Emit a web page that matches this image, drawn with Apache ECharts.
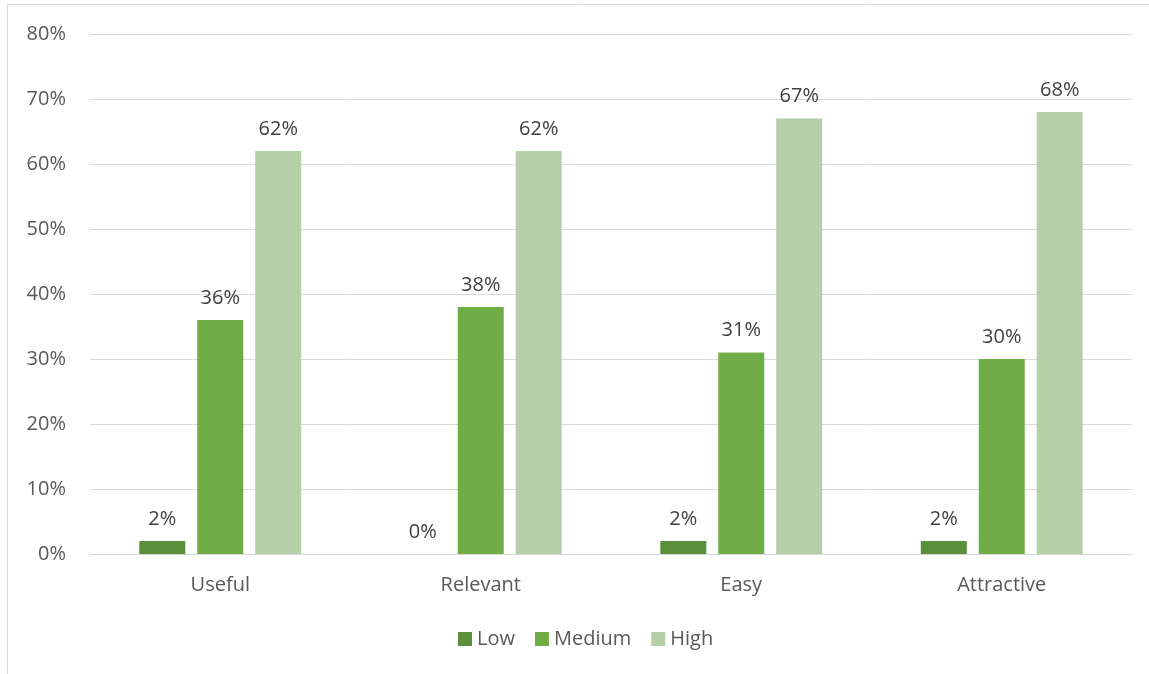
<!DOCTYPE html>
<html>
<head>
<meta charset="utf-8">
<script src="https://cdn.jsdelivr.net/npm/echarts@6/dist/echarts.min.js"></script>
<style>
  html, body { margin: 0; padding: 0; background: #fff; }
  #chart { width: 1149px; height: 674px; }
</style>
</head>
<body>
<div id="chart"></div>
<script>
// Survey ratings per attribute, in percent
const categories = ['Useful', 'Relevant', 'Easy', 'Attractive'];
const lowValues = [2, 0, 2, 2];
const mediumValues = [36, 38, 31, 30];
const highValues = [62, 62, 67, 68];
const seriesNames = ['Low', 'Medium', 'High'];
const yTicks = [0, 10, 20, 30, 40, 50, 60, 70, 80];

const colors = ['#5B903A', '#70AD47', '#B5CFA9'];
const textColor = '#595959';
const fontFamily = '"Open Sans", "Noto Sans", sans-serif';
const fontSize = 20;

const chart = echarts.init(document.getElementById('chart'), null, { renderer: 'canvas' });

function barSeries(name, data, color) {
  return {
    name: name,
    type: 'bar',
    data: data,
    barWidth: 46,
    barGap: '26%',
    itemStyle: { color: color },
    label: {
      show: true,
      position: 'top',
      distance: 12,
      formatter: p => p.value + '%',
      color: '#404040',
      fontSize: fontSize,
      fontFamily: fontFamily
    },
    emphasis: { disabled: true }
  };
}

chart.setOption({
  animation: false,
  color: colors,
  graphic: [{
    type: 'rect',
    shape: { x: 7.5, y: 4.5, width: 1300, height: 800 },
    style: { fill: 'none', stroke: '#d9d9d9', lineWidth: 1 },
    silent: true
  }],
  grid: { left: 90, right: 17, top: 34, bottom: 120 },
  legend: {
    top: 624,
    left: 453,
    itemWidth: 14,
    itemHeight: 14,
    itemGap: 20,
    icon: 'rect',
    textStyle: { color: textColor, fontSize: fontSize, fontFamily: fontFamily },
    data: seriesNames
  },
  xAxis: {
    type: 'category',
    data: categories,
    axisLine: { lineStyle: { color: '#d9d9d9', width: 1 } },
    axisTick: { show: false },
    axisLabel: { color: textColor, fontSize: fontSize, fontFamily: fontFamily, margin: 21 }
  },
  yAxis: {
    type: 'value',
    min: yTicks[0],
    max: yTicks[yTicks.length - 1],
    interval: 10,
    axisLine: { show: false },
    axisTick: { show: false },
    splitLine: { lineStyle: { color: '#d9d9d9', width: 1 } },
    axisLabel: { color: textColor, fontSize: fontSize, fontFamily: fontFamily, margin: 24, formatter: v => v + '%' }
  },
  series: [
    barSeries(seriesNames[0], lowValues, colors[0]),
    barSeries(seriesNames[1], mediumValues, colors[1]),
    barSeries(seriesNames[2], highValues, colors[2])
  ]
});
</script>
</body>
</html>
